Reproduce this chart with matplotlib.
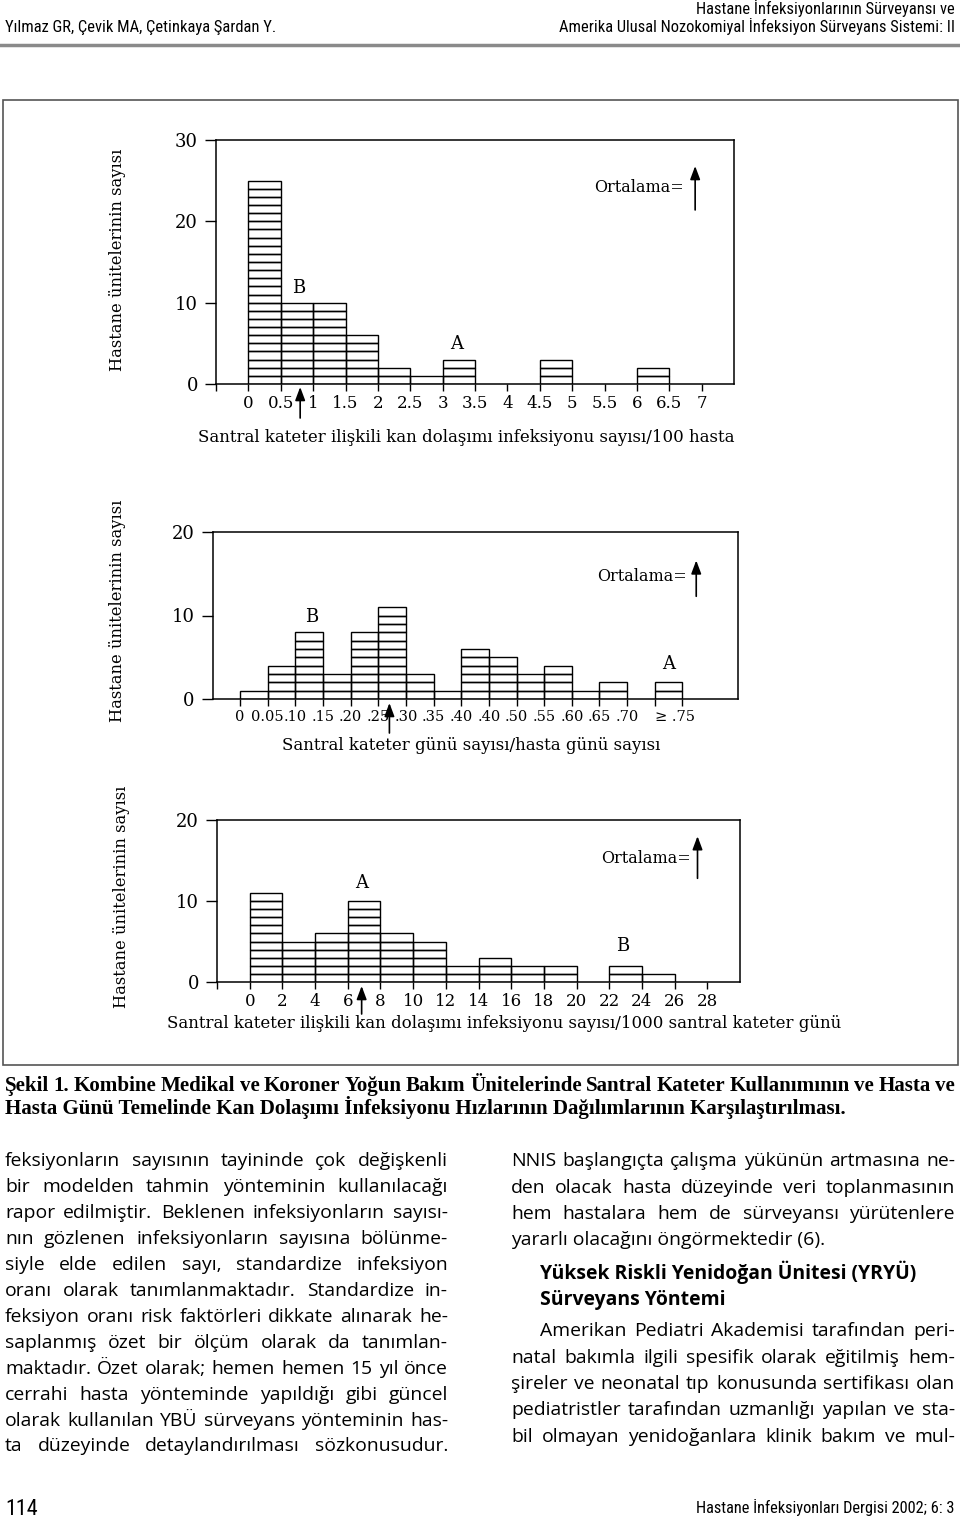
import matplotlib
matplotlib.use("Agg")
import matplotlib.pyplot as plt
from matplotlib import font_manager
from matplotlib.patches import Rectangle
import numpy as np

# Şekil 1 - üç histogram (ünite sayıları)
p1_counts = [25, 10, 10, 6, 2, 1, 3, 0, 0, 3, 0, 0, 2, 0]
p1_width = 0.5
p1_ticks = [0, 0.5, 1, 1.5, 2, 2.5, 3, 3.5, 4, 4.5, 5, 5.5, 6, 6.5, 7]
p1_ticklabels = ["0", "0.5", "1", "1.5", "2", "2.5", "3", "3.5", "4", "4.5",
                 "5", "5.5", "6", "6.5", "7"]
p1_mean = 0.8

p2_counts = [1, 4, 8, 3, 8, 11, 3, 1, 6, 5, 3, 4, 1, 2, 0, 2]
p2_width = 1
p2_ticklabels = ["0", "0.05", ".10", ".15", ".20", ".25", ".30", ".35", ".40",
                 ".40", ".50", ".55", ".60", ".65", ".70", "\u2265 .75", ""]
p2_mean = 5.4

p3_counts = [11, 5, 6, 10, 6, 5, 2, 3, 2, 2, 0, 2, 1, 0]
p3_width = 2
p3_ticks = [0, 2, 4, 6, 8, 10, 12, 14, 16, 18, 20, 22, 24, 26, 28]
p3_mean = 6.85

ylabel = "Hastane ünitelerinin sayısı"
xlabel1 = "Santral kateter ilişkili kan dolaşımı infeksiyonu sayısı/100 hasta"
xlabel2 = "Santral kateter günü sayısı/hasta günü sayısı"
xlabel3 = "Santral kateter ilişkili kan dolaşımı infeksiyonu sayısı/1000 santral kateter günü"

caption = ["Şekil 1. Kombine Medikal ve Koroner Yoğun Bakım Ünitelerinde Santral Kateter Kullanımının ve Hasta ve",
           "Hasta Günü Temelinde Kan Dolaşımı İnfeksiyonu Hızlarının Dağılımlarının Karşılaştırılması."]

left_col = [
    "feksiyonların sayısının tayininde çok değişkenli",
    "bir modelden tahmin yönteminin kullanılacağı",
    "rapor edilmiştir. Beklenen infeksiyonların sayısı-",
    "nın gözlenen infeksiyonların sayısına bölünme-",
    "siyle elde edilen sayı, standardize infeksiyon",
    "oranı olarak tanımlanmaktadır. Standardize in-",
    "feksiyon oranı risk faktörleri dikkate alınarak he-",
    "saplanmış özet bir ölçüm olarak da tanımlan-",
    "maktadır. Özet olarak; hemen hemen 15 yıl önce",
    "cerrahi hasta yönteminde yapıldığı gibi güncel",
    "olarak kullanılan YBÜ sürveyans yönteminin has-",
    "ta düzeyinde detaylandırılması sözkonusudur.",
]
right_col1 = [
    "NNIS başlangıçta çalışma yükünün artmasına ne-",
    "den olacak hasta düzeyinde veri toplanmasının",
    "hem hastalara hem de sürveyansı yürütenlere",
    "yararlı olacağını öngörmektedir (6).",
]
heading = ["Yüksek Riskli Yenidoğan Ünitesi (YRYÜ)", "Sürveyans Yöntemi"]
right_col2 = [
    "Amerikan Pediatri Akademisi tarafından peri-",
    "natal bakımla ilgili spesifik olarak eğitilmiş hem-",
    "şireler ve neonatal tıp konusunda sertifikası olan",
    "pediatristler tarafından uzmanlığı yapılan ve sta-",
    "bil olmayan yenidoğanlara klinik bakım ve mul-",
]


def pick(names):
    available = {f.name for f in font_manager.fontManager.ttflist}
    for n in names:
        if n in available:
            return n
    return "DejaVu Sans"


COND = pick(["Liberation Sans Narrow", "Roboto Condensed", "DejaVu Sans"])
BODY = pick(["Open Sans", "Noto Sans", "DejaVu Sans"])
CAPF = pick(["Liberation Serif", "DejaVu Serif"])

plt.rcParams["font.family"] = "DejaVu Serif"

W, H = 960, 1519
fig = plt.figure(figsize=(W / 100, H / 100), dpi=100)

# sayfa ekseni: koordinatlar piksel cinsinden
page = fig.add_axes([0, 0, 1, 1])
page.set_xlim(0, W)
page.set_ylim(H, 0)
page.axis("off")
renderer = fig.canvas.get_renderer()


def text_width(s, size, family, weight="normal"):
    t = page.text(0, 0, s, fontsize=size, family=family, weight=weight)
    w = t.get_window_extent(renderer).width
    t.remove()
    return w


def fit_size(s, target, family, weight="normal"):
    return 10 * target / text_width(s, 10, family, weight)


def put_line(s, x0, x1, y, size, family, weight="normal", justify=True):
    if not justify:
        page.text(x0, y, s, fontsize=size, family=family, weight=weight, va="baseline")
        return
    words = s.split()
    ws = [text_width(w, size, family, weight) for w in words]
    gap = (x1 - x0 - sum(ws)) / (len(words) - 1)
    x = x0
    for w, wd in zip(words, ws):
        page.text(x, y, w, fontsize=size, family=family, weight=weight, va="baseline")
        x += wd + gap


# üst bilgi
s = fit_size("Yılmaz GR, Çevik MA, Çetinkaya Şardan Y.", 270, COND)
page.text(5, 32, "Yılmaz GR, Çevik MA, Çetinkaya Şardan Y.", fontsize=s, family=COND, va="baseline")
page.text(955, 14, "Hastane İnfeksiyonlarının Sürveyansı ve", fontsize=s, family=COND,
          va="baseline", ha="right")
page.text(955, 32, "Amerika Ulusal Nozokomiyal İnfeksiyon Sürveyans Sistemi: II", fontsize=s,
          family=COND, va="baseline", ha="right")
page.plot([0, 958], [45, 45], color="#8a8a8a", lw=2.5)

# çerçeve
page.add_patch(Rectangle((3, 100), 955, 965, fill=False, edgecolor="#555555", lw=1.2))


def make_panel(box, xlim, ylim, yticks):
    left, top, right, bottom = box
    ax = fig.add_axes([left / W, 1 - bottom / H, (right - left) / W, (bottom - top) / H])
    ax.set_xlim(*xlim)
    ax.set_ylim(*ylim)
    ax.patch.set_alpha(0)
    for sp in ax.spines.values():
        sp.set_linewidth(1.1)
    ax.tick_params(axis="x", direction="out", length=5, width=1, pad=3, labelsize=12)
    ax.tick_params(axis="y", direction="out", length=8, width=1, pad=5, labelsize=13)
    ax.set_yticks(yticks)
    return ax


def draw_cells(ax, counts, width):
    counts = np.asarray(counts)
    lefts = np.arange(len(counts)) * width
    for k in range(counts.max()):
        m = counts > k
        ax.bar(lefts[m], 1, width=width, bottom=k, align="edge", fill=False,
               edgecolor="black", linewidth=1.0)


def ortalama(ax, xt, yt, xa, y0, y1):
    ax.text(xt, yt, "Ortalama=", ha="right", va="center", fontsize=11.5)
    ax.annotate("", xy=(xa, y1), xytext=(xa, y0),
                arrowprops=dict(arrowstyle="-|>,head_length=0.8,head_width=0.3",
                                color="black", lw=1.2, mutation_scale=10,
                                shrinkA=0, shrinkB=0))


def mean_arrow(ax, x, tip, tail):
    h = ax.get_position().height * H
    tr = ax.get_xaxis_transform()
    ax.annotate("", xy=(x, -tip / h), xytext=(x, -tail / h), xycoords=tr, textcoords=tr,
                annotation_clip=False,
                arrowprops=dict(arrowstyle="-|>,head_length=0.8,head_width=0.3",
                                color="black", lw=1.2, mutation_scale=10,
                                shrinkA=0, shrinkB=0))


# Panel 1
ax1 = make_panel((216, 140, 734, 384), (-0.5, 7.5), (0, 30), [0, 10, 20, 30])
draw_cells(ax1, p1_counts, p1_width)
ax1.set_xticks([-0.5] + p1_ticks)
ax1.set_xticklabels([""] + p1_ticklabels)
ax1.text(0.78, 11.8, "B", ha="center", va="center", fontsize=13)
ax1.text(3.22, 4.9, "A", ha="center", va="center", fontsize=13)
ortalama(ax1, 6.72, 24.2, 6.9, 21.4, 26.8)
mean_arrow(ax1, p1_mean, 3, 34)
page.text(117, 260, ylabel, rotation=90, ha="center", va="center", fontsize=11.8)
page.text(466, 438, xlabel1, ha="center", va="center", fontsize=12)

# Panel 2
ax2 = make_panel((212.5, 532, 737.7, 699), (-1, 18), (0, 20), [0, 10, 20])
draw_cells(ax2, p2_counts, p2_width)
ax2.set_xticks(range(len(p2_ticklabels)))
ax2.set_xticklabels(p2_ticklabels, fontsize=10.5)
last = ax2.get_xticklabels()[15]
last.set_ha("left")
ax2.text(2.6, 9.8, "B", ha="center", va="center", fontsize=13)
ax2.text(15.5, 4.2, "A", ha="center", va="center", fontsize=13)
ortalama(ax2, 16.15, 14.7, 16.5, 12.3, 16.6)
mean_arrow(ax2, p2_mean, 4, 34)
page.text(118, 611, ylabel, rotation=90, ha="center", va="center", fontsize=11.8)
page.text(471, 745, xlabel2, ha="center", va="center", fontsize=12)

# Panel 3
ax3 = make_panel((217, 820, 740, 982), (-2, 30), (0, 20), [0, 10, 20])
draw_cells(ax3, p3_counts, p3_width)
ax3.set_xticks([-2] + p3_ticks)
ax3.set_xticklabels([""] + [str(t) for t in p3_ticks])
ax3.text(6.87, 12.2, "A", ha="center", va="center", fontsize=13)
ax3.text(22.8, 4.4, "B", ha="center", va="center", fontsize=13)
ortalama(ax3, 27.0, 15.3, 27.4, 12.8, 18.0)
mean_arrow(ax3, p3_mean, 4, 32)
page.text(121, 897, ylabel, rotation=90, ha="center", va="center", fontsize=11.8)
page.text(504, 1023, xlabel3, ha="center", va="center", fontsize=12)

# başlık (şekil altı)
cs = fit_size(caption[1], 846, CAPF, "bold")
put_line(caption[0], 5, 955, 1091, cs, CAPF, "bold")
put_line(caption[1], 5, 955, 1114, cs, CAPF, "bold", justify=False)

# metin sütunları: yazı boyu en sıkışık satıra göre
bs = 0.99 * min([fit_size(ln, 443, BODY) for ln in left_col[:-1]] +
                [fit_size(ln, 444, BODY) for ln in right_col1[:3] + right_col2[1:]] +
                [fit_size(right_col2[0], 415, BODY)])
for i, ln in enumerate(left_col):
    put_line(ln, 5, 448, 1166.5 + i * 25.9, bs, BODY)
for i, ln in enumerate(right_col1):
    put_line(ln, 511, 955, 1166.5 + i * 26.1, bs, BODY, justify=i < 3)
for i, ln in enumerate(heading):
    put_line(ln, 540, 955, 1278.5 + i * 26.5, bs, BODY, "bold", justify=False)
for i, ln in enumerate(right_col2):
    put_line(ln, 540 if i == 0 else 511, 955, 1336.5 + i * 26.25, bs, BODY)

# alt bilgi
page.text(5, 1515, "114", fontsize=16, family=COND, va="baseline")
fs = fit_size("Hastane İnfeksiyonları Dergisi 2002; 6: 3", 258, COND)
page.text(955, 1513, "Hastane İnfeksiyonları Dergisi 2002; 6: 3", fontsize=fs, family=COND,
          va="baseline", ha="right")

fig.savefig("out.png", dpi=100)
